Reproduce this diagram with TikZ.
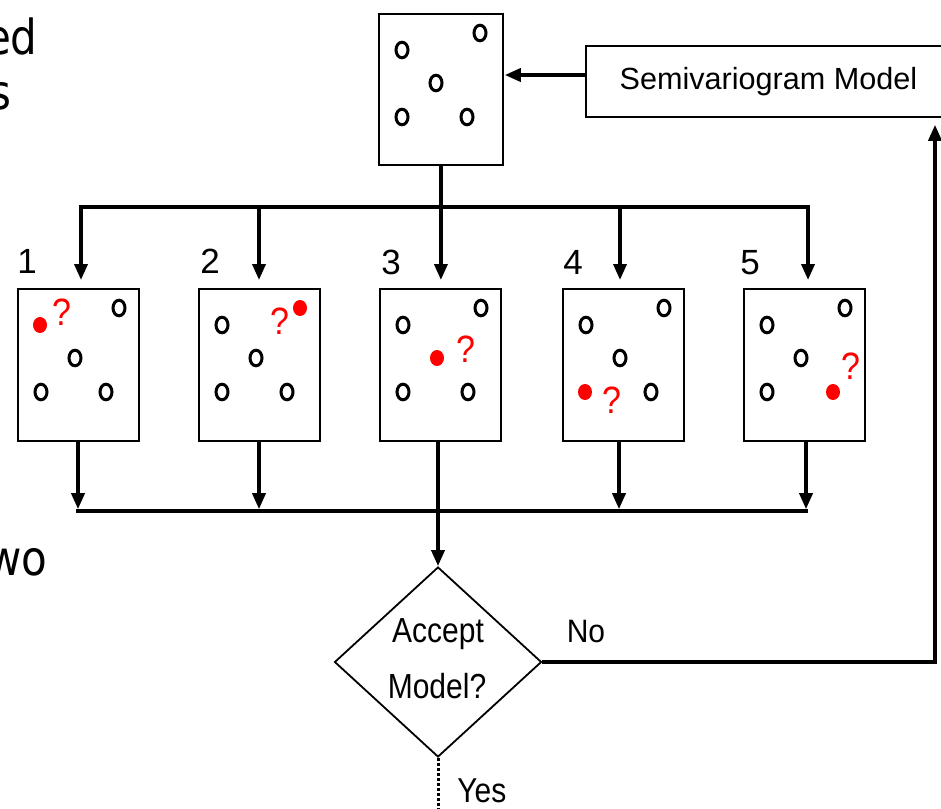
\documentclass[tikz,border=0pt]{standalone}
\usepackage{fontspec}
\setmainfont{Liberation Sans}
\newfontfamily\verdfont{DejaVu Sans}
\usetikzlibrary{arrows.meta,shapes.geometric}
\newcommand\holes[3]{%
  \foreach \k/\dx/\dy in {1/24/37,2/102/20,3/58/70,4/24/104,5/89/104}{%
    \ifnum\k=#3\relax\else
      \draw[hole] (#1+\dx,#2+\dy) ellipse[x radius=3pt,y radius=3.9pt];
    \fi}}
\begin{document}
\begin{tikzpicture}[x=0.5pt,y=-0.5pt,
  box/.style={draw,line width=0.9pt,inner sep=0pt,anchor=north west,
    minimum width=60.5pt,minimum height=76pt},
  conn/.style={line width=1.8pt},
  arr/.style={conn,-{Triangle[length=8pt,width=6.5pt]}},
  hole/.style={line width=1.5pt},
  rdot/.style={fill=red},
  qm/.style={text=red,inner sep=0pt,font=\fontsize{17}{20}\selectfont},
  num/.style={anchor=base,inner sep=0pt,font=\fontsize{17.5}{20}\selectfont},
  lbl/.style={inner sep=0pt,font=\fontsize{15}{18}\selectfont},
  frag/.style={anchor=base east,inner sep=0pt,font=\verdfont\fontsize{21}{24}\selectfont}
]
\useasboundingbox (0,0) rectangle (941,808);
\fill[white] (0,0) rectangle (941,808);

% background slide text fragments
\node[frag] (f1) at (38,55) {\scalebox{1}[1.15]{ed}};
\node[frag] (f2) at (12,110) {\scalebox{1}[1.15]{s}};
\node[frag] (f3) at (48,575) {\scalebox{1}[1.15]{wo}};
\node[frag] (f4) at (5,690) {\scalebox{1}[1.15]{:}};

% top box and model box
\node[box,minimum width=62pt,minimum height=75.5pt] (top) at (378,13) {};
\holes{378}{13}{0}
\node[draw,line width=0.9pt,anchor=north west,inner sep=0pt,
  minimum width=182.5pt,minimum height=35.5pt,
  font=\fontsize{15.3}{18}\selectfont] (semi) at (585,45) {Semivariogram Model};

% five boxes
\node[box] (b1) at (17,288) {};
\node[box] (b2) at (198,288) {};
\node[box] (b3) at (379,288) {};
\node[box] (b4) at (562,288) {};
\node[box] (b5) at (743,288) {};
\holes{17}{288}{1}
\holes{198}{288}{2}
\holes{379}{288}{3}
\holes{562}{288}{4}
\holes{743}{288}{5}

\fill[rdot] (40,325) ellipse[x radius=3.5pt,y radius=4pt];
\fill[rdot] (300,308) ellipse[x radius=3.5pt,y radius=4pt];
\fill[rdot] (437,358) ellipse[x radius=3.5pt,y radius=4pt];
\fill[rdot] (585,392) ellipse[x radius=3.5pt,y radius=4pt];
\fill[rdot] (833,392) ellipse[x radius=3.5pt,y radius=4pt];
\node[qm] (q1) at (62,312) {\scalebox{1}[1.12]{?}};
\node[qm] (q2) at (280,321) {\scalebox{1}[1.12]{?}};
\node[qm] (q3) at (466,349) {\scalebox{1}[1.12]{?}};
\node[qm] (q4) at (612,400) {\scalebox{1}[1.12]{?}};
\node[qm] (q5) at (851,366) {\scalebox{1}[1.12]{?}};

\node[num] (n1) at (27,273) {1};
\node[num] (n2) at (210,273) {2};
\node[num] (n3) at (391,274) {3};
\node[num] (n4) at (573,274) {4};
\node[num] (n5) at (750,274) {5};

% decision
\node[draw,line width=0.9pt,shape=diamond,inner sep=0pt,
  minimum width=103.5pt,minimum height=95pt] (dia) at (438,662) {};
\node[lbl,anchor=base] (acc) at (438,642) {\scalebox{1}[1.16]{Accept}};
\node[lbl,anchor=base] (mod) at (437,698) {\scalebox{1}[1.16]{Model?}};
\node[lbl,anchor=base] (no) at (586,642) {\scalebox{1}[1.08]{No}};
\node[lbl,anchor=base west] (yes) at (457,802) {\scalebox{1}[1.15]{Yes}};

% coordinates
\coordinate (a) at (0,75);
\coordinate (t1) at (81,207);
\coordinate (t2) at (259,207);
\coordinate (t4) at (620,207);
\coordinate (t5) at (808,207);
\coordinate (u1) at (78,511);
\coordinate (u2) at (259,511);
\coordinate (u3) at (438,511);
\coordinate (u4) at (619,511);
\coordinate (u5) at (806,511);
\coordinate (cR) at (935,662);
\coordinate (yend) at (438,815);

% connectors
\draw[arr,shorten >=0.5pt] (semi.west |- a) -- (top.east |- a);
\draw[conn,line cap=rect] (t1) -- (t5);
\draw[arr,shorten >=4pt] (top.south) -- (top.south |- b3.north);
\foreach \t/\b in {t1/b1,t2/b2,t4/b4,t5/b5}
  \draw[arr,shorten >=4pt] (\t) -- (\t |- \b.north);
\foreach \u/\b in {u1/b1,u2/b2,u4/b4,u5/b5}
  \draw[arr,shorten >=0.9pt] (\u |- \b.south) -- (\u);
\draw[conn,line cap=rect] (u1) -- (u5);
\draw[arr] (u3 |- b3.south) -- (dia.north);
\draw[arr,shorten >=3.5pt] (dia.east) -- (cR) -- (cR |- semi.south);
\draw[line width=1.5pt,dash pattern=on 1.5pt off 1pt] (dia.south) -- (yend);
\end{tikzpicture}
\end{document}
